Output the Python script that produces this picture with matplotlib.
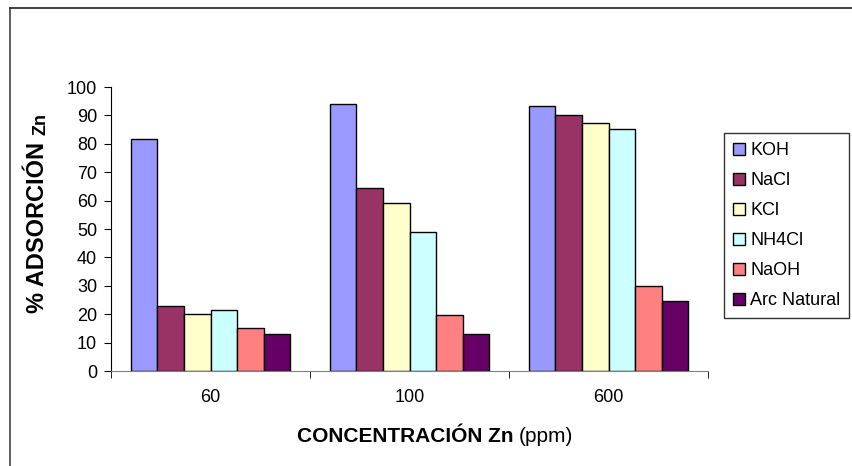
import numpy as np
import matplotlib.pyplot as plt
from matplotlib.lines import Line2D

plt.rcParams['font.family'] = ['Liberation Sans', 'DejaVu Sans']

# data
concentrations = ['60', '100', '600']
series = ['KOH', 'NaCl', 'KCl', 'NH4Cl', 'NaOH', 'Arc Natural']
koh = [81.6, 93.9, 93.4]
nacl = [23.0, 64.5, 90.2]
kcl = [20.2, 59.2, 87.4]
nh4cl = [21.5, 49.1, 85.3]
naoh = [15.0, 19.8, 29.8]
arc_natural = [12.9, 12.9, 24.6]
colors = ['#9999FF', '#993366', '#FFFFCC', '#CCFFFF', '#FF8080', '#660066']

values = [koh, nacl, kcl, nh4cl, naoh, arc_natural]

fig = plt.figure(figsize=(8.52, 4.66), dpi=100)
ax = fig.add_axes([111/852, 95/466, 597/852, 284/466])

x = np.arange(len(concentrations))
w = 1 / 7.5  # excel gap width 150%
for i, (name, vals) in enumerate(zip(series, values)):
    ax.bar(x + (i - 2.5) * w, vals, width=w, color=colors[i],
           edgecolor='black', linewidth=1.0, label=name, zorder=2)

ax.set_xlim(-0.5, 2.5)
ax.set_ylim(0, 100)
ax.set_yticks(np.arange(0, 101, 10))
ax.set_xticks(x)
ax.set_xticklabels(concentrations)
ax.set_xticks([-0.5, 0.5, 1.5, 2.5], minor=True)
ax.tick_params(axis='x', which='major', length=0, pad=13, labelsize=13)
ax.tick_params(axis='x', which='minor', length=5, direction='out', color='black')
ax.tick_params(axis='y', length=5, direction='out', labelsize=13, pad=5)

for s in ['top', 'right']:
    ax.spines[s].set_visible(False)
ax.spines['left'].set_color('black')
ax.spines['bottom'].set_color('#808080')

# axis labels (mixed bold / regular text)
xl = fig.text(297/852, 1 - 442/466, 'CONCENTRACIÓN Zn ', fontsize=15,
              fontweight='bold', ha='left', va='baseline')
ax.annotate('(ppm)', xy=(1, 0), xycoords=xl, fontsize=15,
            ha='left', va='bottom', annotation_clip=False)

yl = fig.text(49/852, 1 - 313/466, '% ADSORCIÓN ', fontsize=17,
              fontweight='bold', rotation=90, ha='right', va='bottom')
ax.annotate('Zn', xy=(1, 1), xycoords=yl, fontsize=13, fontweight='bold',
            rotation=90, ha='right', va='bottom', annotation_clip=False)

# legend
leg = fig.legend(loc='upper left', bbox_to_anchor=(724/852, 1 - 133/466),
                 fontsize=13, frameon=True, fancybox=False, edgecolor='black',
                 handlelength=0.65, handleheight=0.65, handletextpad=0.3,
                 labelspacing=0.72, borderpad=0.5, borderaxespad=0)
leg.get_frame().set_linewidth(1.0)

# outer chart border
fig.add_artist(Line2D([10/852, 10/852], [0, 1 - 8/466], color='#444444', lw=1.2))
fig.add_artist(Line2D([10/852, 1], [1 - 8/466, 1 - 8/466], color='#222222', lw=1.2))

fig.savefig('out.png', dpi=100)
